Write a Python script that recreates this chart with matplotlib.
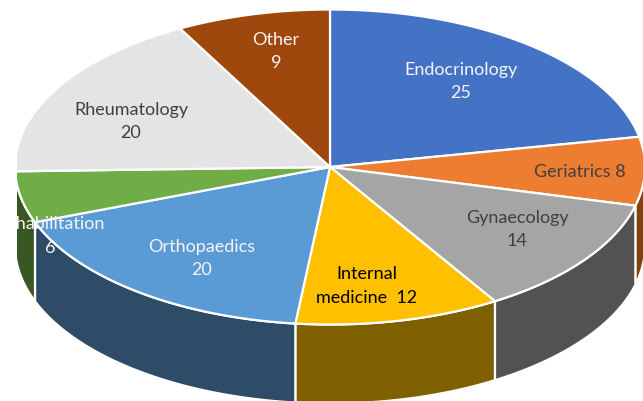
import numpy as np
import matplotlib
matplotlib.use("Agg")
import matplotlib.pyplot as plt
from matplotlib.patches import Polygon, Rectangle

categories = ["Endocrinology", "Geriatrics", "Gynaecology", "Internal medicine",
              "Orthopaedics", "Rehabilitation", "Rheumatology", "Other"]
values = [25, 8, 14, 12, 20, 6, 20, 9]

top_colors = ["#4472c4", "#ed7d31", "#a5a5a5", "#ffc000",
              "#5b9bd5", "#70ad47", "#e4e4e4", "#9e480e"]
side_colors = ["#2a4478", "#7f4310", "#525252", "#7f6000",
               "#2e4b68", "#385723", "#8a8a8a", "#5f2c08"]
text_colors = ["#f4f4f4", "#404040", "#404040", "black",
               "#f4f4f4", "#f4f4f4", "#404040", "#f4f4f4"]

label_texts = ["Endocrinology\n25", "Geriatrics 8", "Gynaecology\n14", "Internal\nmedicine  12",
               "Orthopaedics\n20", "Rehabilitation\n6", "Rheumatology\n20", "Other\n9"]
label_x = [461, 580, 517, 367, 202, 50, 131, 276]
label_y = [81.5, 172, 229.5, 286, 258.5, 236, 121.5, 51.5]

# ellipse geometry in pixels, y grows downwards
cx, cy, rx, ry = 330, 168, 315, 157.5
depth = 79


def arc(a0, a1, dy=0.0):
    t = np.radians(np.linspace(a0, a1, 120))
    return np.column_stack([cx + rx * np.sin(t), cy - ry * np.cos(t) + dy])


fig = plt.figure(figsize=(6.43, 4.02), dpi=100)
ax = fig.add_axes([0, 0, 1, 1])
ax.set_xlim(0, 643)
ax.set_ylim(402, 0)
ax.axis("off")

clip = Rectangle((17, 0), 626, 402, transform=ax.transData)

edges = np.concatenate([[0], np.cumsum(values)]) / sum(values) * 360

# side walls of the front half
for i in range(len(values)):
    a0 = max(edges[i], 90)
    a1 = min(edges[i + 1], 270)
    if a1 <= a0:
        continue
    pts = np.vstack([arc(a0, a1), arc(a0, a1, depth)[::-1]])
    wall = Polygon(pts, closed=True, facecolor=side_colors[i], edgecolor="white", linewidth=1.6)
    ax.add_patch(wall)
    wall.set_clip_path(clip)

# top slices
for i in range(len(values)):
    pts = np.vstack([[cx, cy], arc(edges[i], edges[i + 1])])
    wedge = Polygon(pts, closed=True, facecolor=top_colors[i], edgecolor="white", linewidth=1.6)
    ax.add_patch(wedge)
    wedge.set_clip_path(clip)

for i in range(len(values)):
    txt = ax.text(label_x[i], label_y[i], label_texts[i], color=text_colors[i],
                  ha="center", va="center", multialignment="center",
                  fontsize=13, family="Lato", linespacing=1.6)
    txt.set_clip_on(True)
    txt.set_clip_path(clip)

fig.savefig("out.png", dpi=100)
